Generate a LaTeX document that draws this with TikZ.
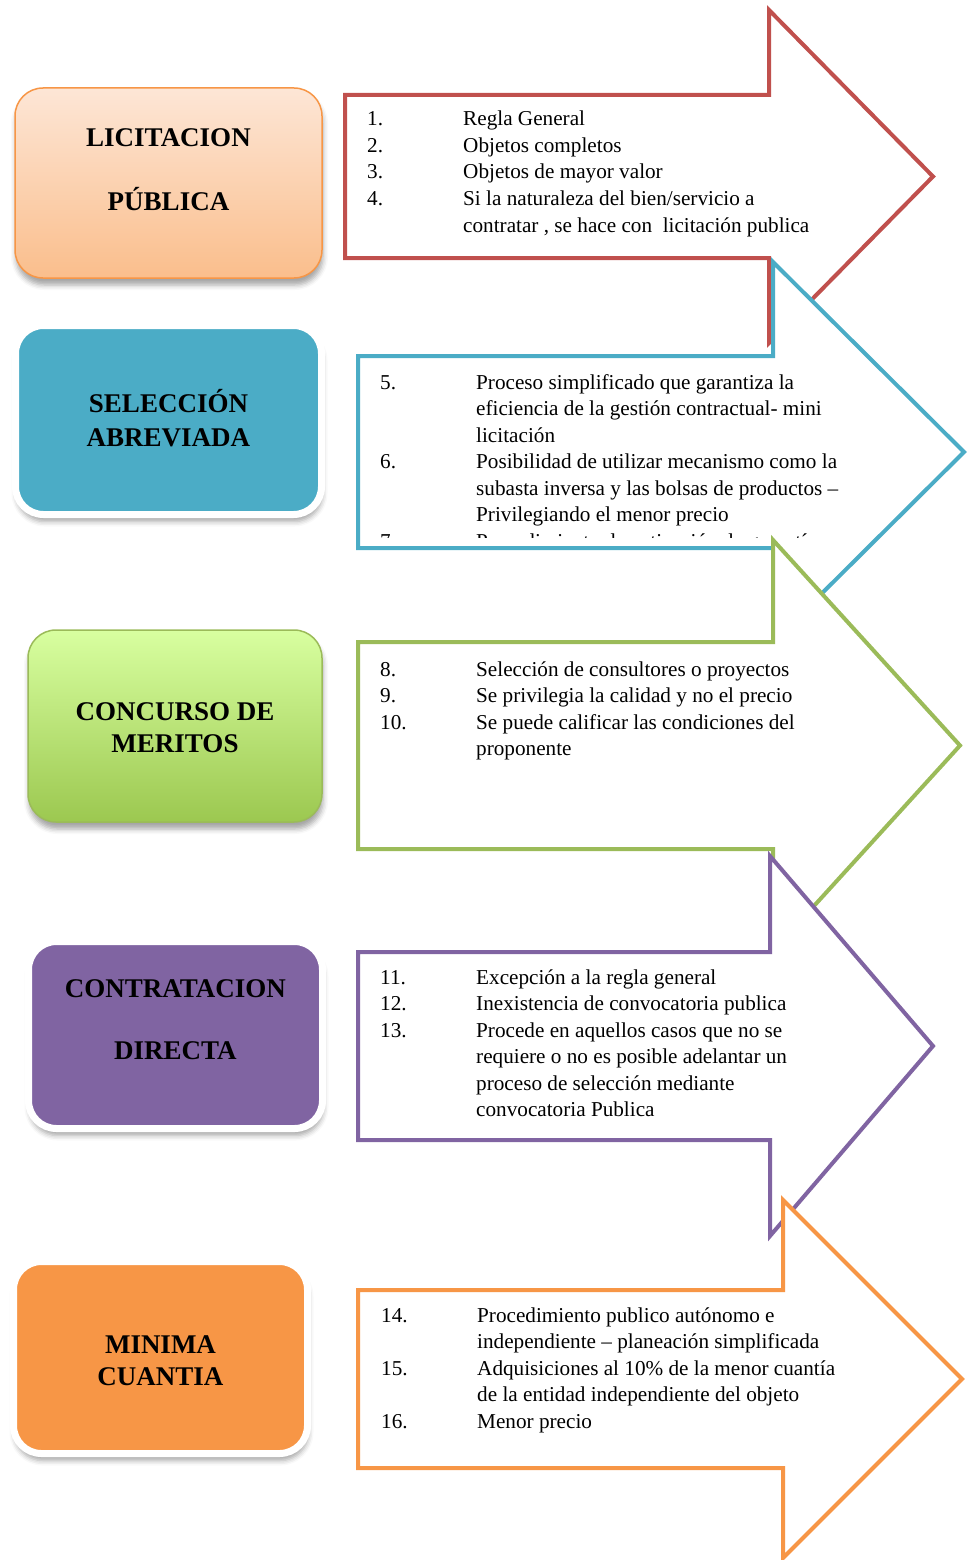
\documentclass[tikz,border=0pt]{standalone}
\usepackage{fontspec}
\setmainfont{Liberation Serif}
\usepackage{array}
\usetikzlibrary{shadows.blur}

\definecolor{rojo}{HTML}{C0504D}
\definecolor{azul}{HTML}{4BACC6}
\definecolor{verde}{HTML}{9BBB59}
\definecolor{morado}{HTML}{8064A2}
\definecolor{naranja}{HTML}{F79646}
\definecolor{durazno}{HTML}{FDE6D6}
\definecolor{duraznob}{HTML}{FABE8C}
\definecolor{limon}{HTML}{D8FFA0}
\definecolor{limonb}{HTML}{9CC850}

% flecha: color, izq, arriba, abajo, cuello, punta arriba, punta x
\newcommand{\flecha}[7]{%
  \pgfmathsetmacro{\ymed}{(#3+#4)/2}%
  \pgfmathsetmacro{\ybaja}{#3+#4-#6}%
  \draw[flechalinea,draw=#1] (#2,#3)--(#5,#3)--(#5,#6)--(#7,\ymed)--(#5,\ybaja)--(#5,#4)--(#2,#4)--cycle;}

\begin{document}
\begin{tikzpicture}[x=1pt,y=-1pt,line join=miter]
\tikzset{flechalinea/.style={line width=4pt,fill=white},
  caja/.style={rounded corners=28pt,inner sep=0pt,
    blur shadow={shadow xshift=1pt,shadow yshift=-7pt,shadow blur radius=5pt,shadow opacity=35}},
  marco/.style={caja,draw=white,line width=7pt},
  titulo/.style={font=\fontsize{27}{32}\selectfont\bfseries,align=center,inner sep=0pt},
  lista/.style={font=\fontsize{21.2}{26.5}\selectfont,inner sep=0pt,anchor=base west}}
\useasboundingbox (0,0) rectangle (967,1560);

% cajas
\node[caja,minimum width=307pt,minimum height=190pt,draw=naranja,line width=1.5pt,
  top color=durazno,bottom color=duraznob] (lp) at (168.5,183) {};
\node[titulo] (lp-t) at ([yshift=13pt]lp.center) {LICITACION\\[32pt]PÚBLICA};
\node[marco,minimum width=306pt,minimum height=189pt,fill=azul] (sa) at (168.5,420) {};
\node[titulo] (sa-t) at ([yshift=2pt]sa.center) {SELECCIÓN\\[2pt]ABREVIADA};
\node[caja,minimum width=294pt,minimum height=192pt,draw=verde,line width=1.5pt,
  top color=limon,bottom color=limonb] (cm) at (175,726) {};
\node[titulo] (cm-t) at ([yshift=-2pt]cm.center) {CONCURSO DE\\MERITOS};
\node[marco,minimum width=294pt,minimum height=187pt,fill=morado] (cd) at (175.5,1035) {};
\node[titulo] (cd-t) at ([yshift=15pt]cd.center) {CONTRATACION\\[30pt]DIRECTA};
\node[marco,minimum width=294pt,minimum height=192pt,fill=naranja] (mc) at (160.5,1357.5) {};
\node[titulo] (mc-t) at ([yshift=-3pt]mc.center) {MINIMA\\CUANTIA};

% flechas y listas
\flecha{rojo}{345}{95}{258}{769}{10}{933}
\node[lista] (lp-l) at (367,126) {\begin{tabular}[t]{@{}p{96pt}@{}l@{}}
1. & Regla General\\
2. & Objetos completos\\
3. & Objetos de mayor valor\\
4. & Si la naturaleza del bien/servicio a\\
   & contratar , se hace con \ licitación publica
\end{tabular}};

\flecha{azul}{358}{356}{548}{773}{262}{964}
\begin{scope}
\clip (360,358) rectangle (960,537);
\node[lista] (sa-l) at (380,389) {\begin{tabular}[t]{@{}p{96pt}@{}l@{}}
5. & Proceso simplificado que garantiza la\\
   & eficiencia de la gestión contractual- mini\\
   & licitación\\
6. & Posibilidad de utilizar mecanismo como la\\
   & subasta inversa y las bolsas de productos –\\
   & Privilegiando el menor precio\\
7. & Procedimiento de cotización de garantía
\end{tabular}};
\end{scope}

\flecha{verde}{358}{642}{849}{773}{540}{960}
\node[lista] (cm-l) at (380,676) {\begin{tabular}[t]{@{}p{96pt}@{}l@{}}
8.  & Selección de consultores o proyectos\\
9.  & Se privilegia la calidad y no el precio\\
10. & Se puede calificar las condiciones del\\
    & proponente
\end{tabular}};

\flecha{morado}{358}{952}{1140}{770}{856}{933}
\node[lista] (cd-l) at (380,984) {\begin{tabular}[t]{@{}p{96pt}@{}l@{}}
11. & Excepción a la regla general\\
12. & Inexistencia de convocatoria publica\\
13. & Procede en aquellos casos que no se\\
    & requiere o no es posible adelantar un\\
    & proceso de selección mediante\\
    & convocatoria Publica
\end{tabular}};

\flecha{naranja}{358}{1290}{1468}{783}{1200}{962}
\node[lista] (mc-l) at (381,1322) {\begin{tabular}[t]{@{}p{96pt}@{}l@{}}
14. & Procedimiento publico autónomo e\\
    & independiente – planeación simplificada\\
15. & Adquisiciones al 10\% de la menor cuantía\\
    & de la entidad independiente del objeto\\
16. & Menor precio
\end{tabular}};
\end{tikzpicture}
\end{document}
